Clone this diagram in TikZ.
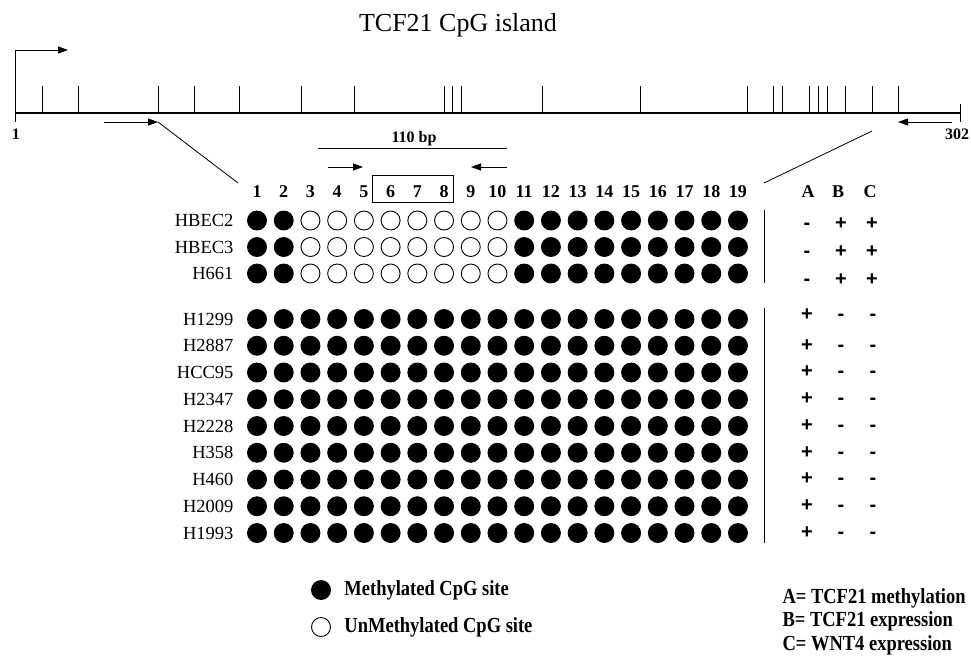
\documentclass[tikz,border=0pt]{standalone}
\usepackage{fontspec}
\setmainfont{Liberation Serif}
\newfontfamily\signfont{Liberation Sans}
\newfontfamily\narrowserif[FakeStretch=0.86]{Liberation Serif}
\usetikzlibrary{arrows.meta, positioning}

\begin{document}
\begin{tikzpicture}[x=1pt, y=-1pt,
    site/.style={circle, draw=black, line width=0.9pt, inner sep=0pt, minimum size=19pt},
    colnum/.style={font=\bfseries\fontsize{18}{20}\selectfont},
    cellname/.style={anchor=east, font=\fontsize{18.5}{20}\selectfont},
    sign/.style={font=\signfont\bfseries\fontsize{20}{22}\selectfont, text height=10pt, text depth=0pt},
    keytext/.style={anchor=west, font=\narrowserif\bfseries\fontsize{21.5}{24}\selectfont},
    primer/.style={line width=0.8pt, -{Triangle[length=10pt, width=7pt]}}]

    \useasboundingbox (0,0) rectangle (971,657);

    % Define the positions used throughout
    \def\liney{113}
    \def\colstep{26.72}

    % Title
    \node (title) at (458,25) {\fontsize{26}{30}\selectfont TCF21 CpG island};

    % Draw the CpG island with its CpG sites
    \coordinate (islandstart) at (15.7,\liney);
    \coordinate (islandend) at (960,\liney);
    \draw[line width=1.4pt] (islandstart) -- (islandend);
    \foreach \x in {42,78,158,194,239,301,354,444,452,461,542,640,747,773,782,809,818,827,845,872,898}
        \draw[line width=0.9pt] (\x,\liney) -- ++(0,-27);
    \draw[line width=0.9pt] ([yshift=-9pt]islandend) -- ([yshift=9pt]islandend);

    % Transcription start arrow
    \coordinate (tss) at (15.7,122);
    \draw[line width=0.9pt, -{Triangle[length=10pt, width=7pt]}] (tss) |- (68,50);

    % Position labels
    \node[font=\bfseries\fontsize{16}{18}\selectfont] (pos1) at (16,134) {1};
    \node[font=\bfseries\fontsize{16}{18}\selectfont] (pos302) at (957,134) {302};

    % Primers on the island
    \coordinate (fwdtail) at (104,122);
    \coordinate (fwdtip) at (158,122);
    \coordinate (revtail) at (952,122);
    \coordinate (revtip) at (898,122);
    \draw[primer] (fwdtail) -- (fwdtip);
    \draw[primer] (revtail) -- (revtip);

    % Lines to the enlarged region
    \coordinate (zoomleft) at (238,183);
    \coordinate (zoomright) at (764,183);
    \coordinate (revfoot) at (872,131);
    \draw[line width=0.8pt] (fwdtip) -- (zoomleft);
    \draw[line width=0.8pt] (revfoot) -- (zoomright);

    % Amplicon and nested primers
    \node[font=\bfseries\fontsize{16}{18}\selectfont] (amplicon) at (414,139) {110 bp};
    \coordinate (ampleft) at (318,148);
    \coordinate (ampright) at (507,148);
    \draw[line width=0.8pt] (ampleft) -- (ampright);
    \coordinate (nfwdtail) at (328,167);
    \coordinate (nfwdtip) at (363,167);
    \coordinate (nrevtail) at (507,167);
    \coordinate (nrevtip) at (471,167);
    \draw[primer] (nfwdtail) -- (nfwdtip);
    \draw[primer] (nrevtail) -- (nrevtip);

    % Column numbers
    \foreach \i in {1,...,19}
        \node[colnum] (c\i) at ({257+\colstep*(\i-1)},192) {\i};
    \draw[line width=0.8pt] (372,175) rectangle (453,202);

    % Normal bronchial cells
    \foreach \name [count=\r] in {HBEC2,HBEC3,H661} {
        \pgfmathsetmacro\y{220.5+26.5*(\r-1)}
        \node[cellname] (n\r) at (237,\y) {\name};
        \foreach \i in {1,...,19} {
            \ifnum\i<3 \def\dotfill{black}\else\ifnum\i>10 \def\dotfill{black}\else\def\dotfill{white}\fi\fi
            \node[site, fill=\dotfill] (d\r-\i) at ({257+\colstep*(\i-1)},\y) {};
        }
    }

    % Cancer cell lines
    \foreach \name [count=\r] in {H1299,H2887,HCC95,H2347,H2228,H358,H460,H2009,H1993} {
        \pgfmathsetmacro\y{319+26.75*(\r-1)}
        \node[cellname] (m\r) at (237,\y) {\name};
        \foreach \i in {1,...,19}
            \node[site, fill=black] (e\r-\i) at ({257+\colstep*(\i-1)},\y) {};
    }

    % Separators
    \draw[line width=0.9pt] (764,210) -- (764,283);
    \draw[line width=0.9pt] (764,308) -- (764,543);

    % Status columns
    \node[colnum] (hA) at (808,192) {A};
    \node[colnum] (hB) at (838,192) {B};
    \node[colnum] (hC) at (870,192) {C};
    \foreach \y in {224,252,280} {
        \node[sign] at (807,\y) {-};
        \node[sign] at (841,\y) {+};
        \node[sign] at (872,\y) {+};
    }
    \foreach \y in {315,346,372,399,426,453,479,506,533} {
        \node[sign] at (807,\y) {+};
        \node[sign] at (841,\y) {-};
        \node[sign] at (873,\y) {-};
    }

    % Legend
    \node[site, fill=black] (keymeth) at (321,590) {};
    \node[keytext, right=10pt of keymeth] (keymethtext) {Methylated CpG site};
    \node[site, fill=white] (keyunmeth) at (321,627) {};
    \node[keytext, right=10pt of keyunmeth] (keyunmethtext) {UnMethylated CpG site};

    \node[keytext] (keyA) at (779,598) {A= TCF21 methylation};
    \node[keytext] (keyB) at (779,621) {B= TCF21 expression};
    \node[keytext] (keyC) at (779,645) {C= WNT4 expression};
\end{tikzpicture}
\end{document}
